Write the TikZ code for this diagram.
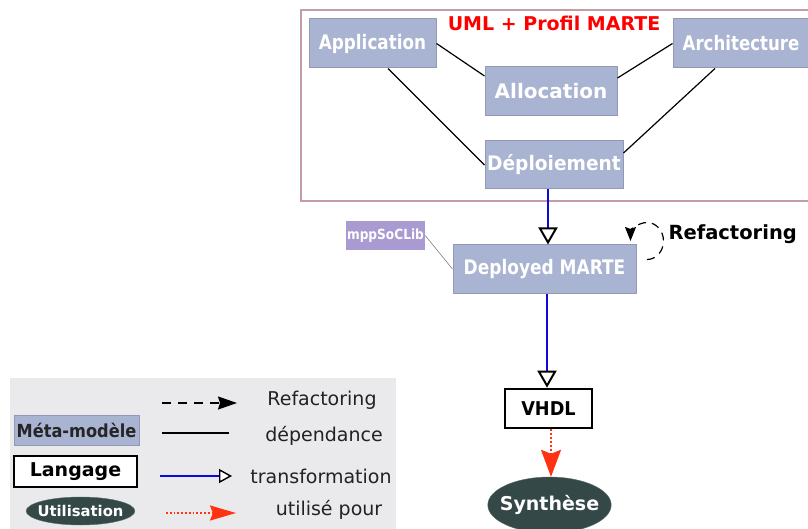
\documentclass[tikz,border=0pt]{standalone}
\usepackage{fontspec}
\setmainfont{DejaVu Sans}
\usetikzlibrary{arrows.meta,shapes.geometric}
\definecolor{metafill}{HTML}{A9B3D2}
\definecolor{metaline}{HTML}{9199B4}
\definecolor{framecol}{HTML}{C49CA4}
\definecolor{libfill}{HTML}{A99AD2}
\definecolor{usefill}{HTML}{344848}
\definecolor{legendbg}{HTML}{EAEAED}
\definecolor{usered}{HTML}{FF3311}
\definecolor{transblue}{HTML}{0A0ADD}
\definecolor{legtext}{HTML}{222222}
\newcommand{\fsz}[1]{\fontsize{#1}{#1}\selectfont}
\newcommand{\sqz}[2]{\scalebox{#1}[1]{#2}}
\tikzset{
  meta/.style={fill=metafill, draw=metaline, line width=1pt, text=white, inner sep=0pt, minimum height=49pt, font=\bfseries\fsz{20}},
  lang/.style={fill=white, draw=black, line width=2.6pt, inner sep=0pt, font=\bfseries\fsz{19}},
  usage/.style={ellipse, fill=usefill, draw=usefill!80!white, text=white, inner ysep=0pt, font=\bfseries\fsz{19}},
  dep/.style={line width=1.2pt},
  trans/.style={transblue, line width=2.6pt, -{Triangle[open, color=black, fill=white, line width=2pt, length=17pt, width=19pt]}},
  used/.style={usered, line width=2pt, dotted, -{Stealth[length=27pt, width=20pt, inset=4pt]}},
  refac/.style={line width=1.2pt, dash pattern=on 8pt off 6pt, -{Stealth[length=14pt, width=11pt, inset=2pt]}},
  legtxt/.style={text=legtext, font=\fsz{19}}
}
\begin{document}
\begin{tikzpicture}[x=1pt,y=-1pt]
\useasboundingbox (0,0) rectangle (808,529);
\clip (0,0) rectangle (808,529);
% modeling frame
\draw[framecol, line width=1.6pt] (820,10) -- (301,10) -- (301,201) -- (820,201);
\node[text=red, font=\bfseries\fsz{19}] (title) at (554,23) {UML + Profil MARTE};
\node[meta, minimum width=127pt] (app) at (372.5,43.5) {\sqz{0.84}{Application}};
\node[meta, minimum width=136pt] (archi) at (741,43.5) {\sqz{0.83}{Architecture}};
\node[meta, minimum width=132pt] (alloc) at (551,91.5) {Allocation};
\node[meta, minimum width=138pt, minimum height=48pt] (deploy) at (554,165) {\sqz{0.93}{Déploiement}};
\draw[dep] (app.east) -- (alloc.north west |- 0,76);
\draw[dep] (archi.west) -- (alloc.east |- 0,78);
\draw[dep] (app.south -| 388,0) -- (deploy.west);
\draw[dep] (archi.south -| 715,0) -- (deploy.east |- 0,153);
% deployed model
\node[meta, minimum width=183pt, minimum height=48pt] (deployed) at (544.5,269) {\sqz{0.85}{Deployed MARTE}};
\node[fill=libfill, text=white, inner sep=0pt, minimum width=79pt, minimum height=29pt, font=\bfseries\fsz{14}] (lib) at (385.5,235.5) {\sqz{0.87}{mppSoCLib}};
\draw[gray, line width=0.6pt] (lib.east) -- (deployed.west);
\draw[trans] (deploy.south -| 548,0) -- (deployed.north -| 548,0);
\draw[refac] (deployed.east) ++(10.5,-9.5) arc[start angle=90, end angle=-180, x radius=16.5, y radius=18.5];
\node[font=\bfseries\fsz{19.5}, anchor=west] (reflabel) at (665,234) {Refactoring};
% language and use
\node[lang, minimum width=87pt, minimum height=39pt] (vhdl) at (548.5,408.5) {\sqz{0.93}{VHDL}};
\draw[trans] (deployed.south -| 547,0) -- (vhdl.north -| 547,0);
\node[usage, inner xsep=-6pt, minimum height=56pt] (synth) at (549.5,505) {Synthèse};
\draw[used] (vhdl.south -| 551,0) -- (synth.north -| 551,0);
% legend
\fill[legendbg] (10,378) rectangle (396,535);
\node[meta, minimum width=125pt, minimum height=30pt, text=black!85, font=\bfseries\fsz{18}] (legmeta) at (76.5,430) {\sqz{0.9}{Méta-modèle}};
\node[lang, minimum width=123pt, minimum height=31pt] (leglang) at (75.5,471.5) {Langage};
\node[usage, inner xsep=-4.5pt, minimum height=28pt, font=\bfseries\fsz{14.8}] (leguse) at (80.5,511) {Utilisation};
\draw[line width=1.4pt, dash pattern=on 9pt off 7pt, -{Stealth[length=19pt, width=13pt, inset=2pt]}] (162,403) -- (237,403);
\draw[dep] (162,433) -- (229,433);
\draw[transblue, line width=1.6pt, -{Triangle[open, color=black, fill=white, line width=1.4pt, length=13pt, width=14pt]}] (160,476) -- (232,476);
\draw[usered, line width=1.8pt, dotted, -{Stealth[length=26pt, width=15pt, inset=3pt]}] (166,513) -- (236,513);
\node[legtxt] (lrefac) at (322,400) {Refactoring};
\node[legtxt] (ldep) at (324,436) {dépendance};
\node[legtxt] (ltrans) at (321,476) {transformation};
\node[legtxt] (lused) at (329,510) {utilisé pour};
\end{tikzpicture}
\end{document}
